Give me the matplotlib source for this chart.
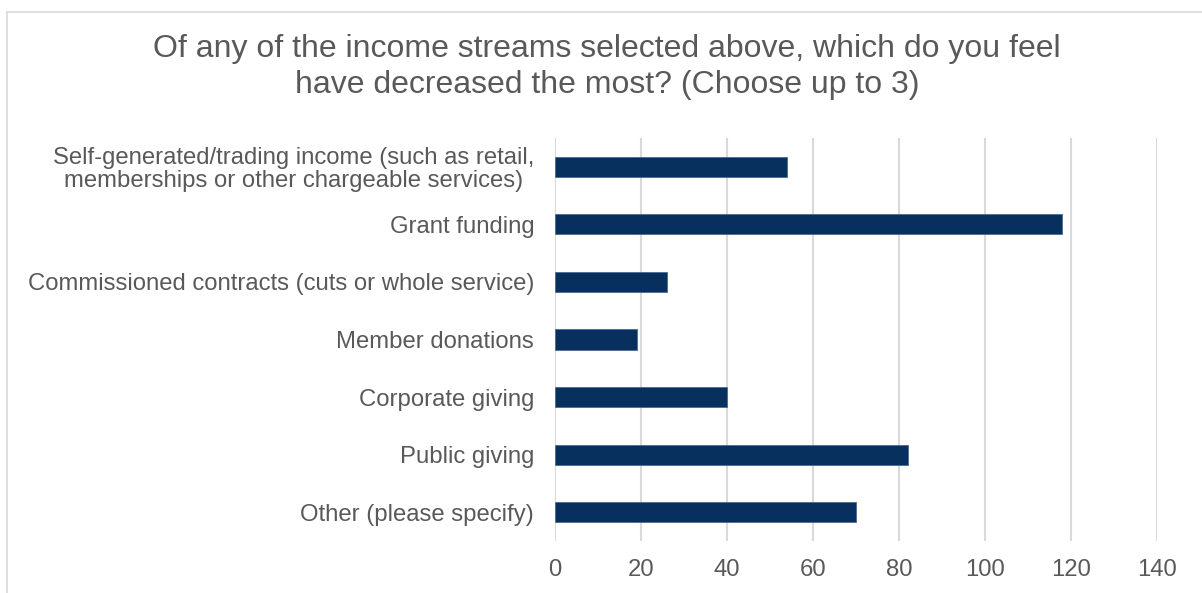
import matplotlib.pyplot as plt
from matplotlib.lines import Line2D

plt.rcParams['font.family'] = ['Liberation Sans', 'DejaVu Sans']

categories = [
    'Self-generated/trading income (such as retail,\nmemberships or other chargeable services)',
    'Grant funding',
    'Commissioned contracts (cuts or whole service)',
    'Member donations',
    'Corporate giving',
    'Public giving',
    'Other (please specify)',
]
counts = [54, 118, 26, 19, 40, 82, 70]
x_ticks = [0, 20, 40, 60, 80, 100, 120, 140]

title = ('Of any of the income streams selected above, which do you feel\n'
         'have decreased the most? (Choose up to 3)')

text_grey = '#595959'
grid_grey = '#d9d9d9'
bar_blue = '#07305f'

fig = plt.figure(figsize=(12.02, 5.93), dpi=100)
ax = fig.add_axes([0.4617, 0.0877, 0.5009, 0.6796])

pos = list(range(len(categories)))
ax.barh(pos, counts, height=0.35, color=bar_blue, edgecolor='#4a6a8f', linewidth=0.6, zorder=3)

ax.set_ylim(len(categories) - 0.5, -0.5)
ax.set_xlim(0, 140)
ax.set_xticks(x_ticks)
ax.set_xticklabels([str(t) for t in x_ticks])
ax.set_yticks(pos)
ax.set_yticklabels(categories, multialignment='center', linespacing=1.05)

ax.grid(axis='x', color=grid_grey, linewidth=1.5, zorder=0)
ax.grid(axis='y', visible=False)
for s in ax.spines.values():
    s.set_visible(False)
ax.tick_params(axis='both', length=0, labelsize=17.2, labelcolor=text_grey)
ax.tick_params(axis='y', pad=15)
ax.tick_params(axis='x', pad=13)

fig.text(0.505, 0.942, title, ha='center', va='top', fontsize=23,
         color=text_grey, linespacing=1.23)

# light chart-area frame
fig.add_artist(Line2D([6.5 / 1202, 6.5 / 1202], [0, 1 - 11.5 / 593],
                      transform=fig.transFigure, color=grid_grey, linewidth=1.2))
fig.add_artist(Line2D([6.5 / 1202, 1], [1 - 11.5 / 593, 1 - 11.5 / 593],
                      transform=fig.transFigure, color=grid_grey, linewidth=1.2))

fig.savefig('out.png', dpi=100)
